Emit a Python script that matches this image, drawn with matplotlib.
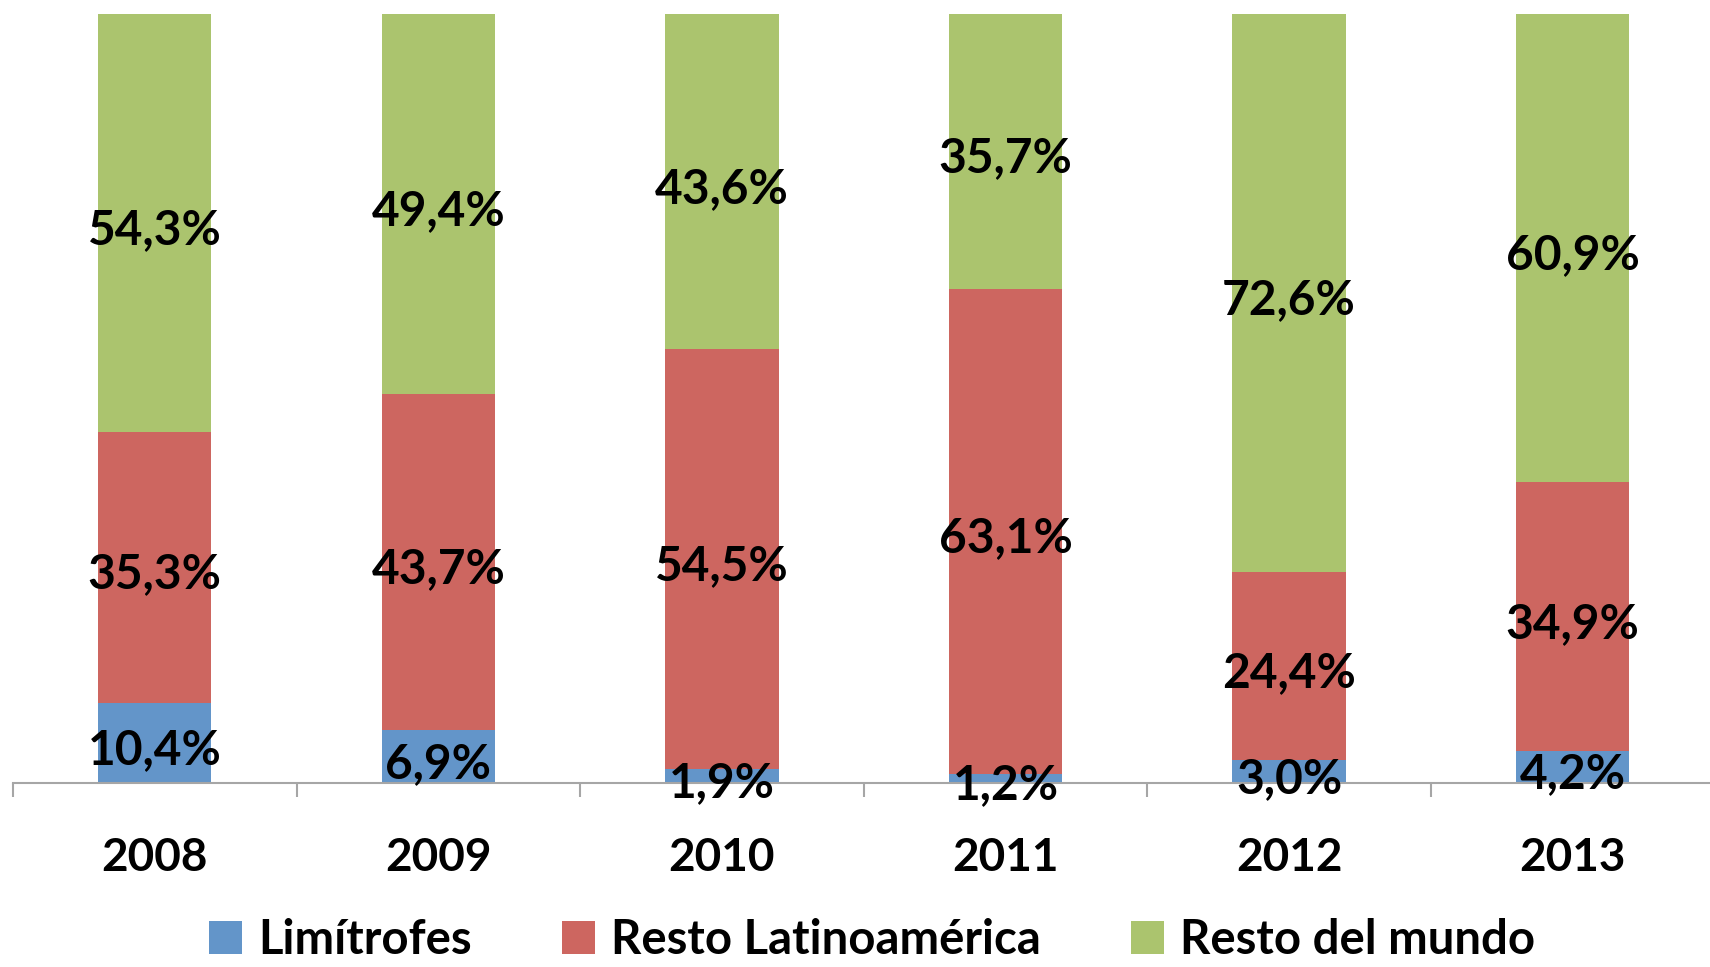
import matplotlib.pyplot as plt
from matplotlib.patches import Patch
import numpy as np

years = ['2008', '2009', '2010', '2011', '2012', '2013']
limitrofes = [10.4, 6.9, 1.9, 1.2, 3.0, 4.2]
resto_latam = [35.3, 43.7, 54.5, 63.1, 24.4, 34.9]
resto_mundo = [54.3, 49.4, 43.6, 35.7, 72.6, 60.9]

series_names = ['Limítrofes', 'Resto Latinoamérica', 'Resto del mundo']
colors = ['#6395C9', '#CD6660', '#ABC46E']


def pct(v):
    return f'{v:.1f}%'.replace('.', ',')


plt.rcParams['font.family'] = ['Lato', 'DejaVu Sans']
plt.rcParams['font.weight'] = 'bold'

fig = plt.figure(figsize=(17.1, 9.67), dpi=100)
ax = fig.add_axes([0.0076, 0.19, 0.995, 0.7955])

x = np.arange(len(years))
bottom = np.zeros(len(years))
for vals, col in zip([limitrofes, resto_latam, resto_mundo], colors):
    vals = np.array(vals)
    ax.bar(x, vals, width=0.4, bottom=bottom, color=col, zorder=2)
    for xi, b, v in zip(x, bottom, vals):
        ax.annotate(pct(v), (xi, b + v / 2), xytext=(0, -5),
                    textcoords='offset points', ha='center', va='center',
                    fontsize=34.5, fontweight='bold', color='black', zorder=3)
    bottom += vals

ax.set_xlim(-0.5, len(years) - 0.5)
ax.set_ylim(0, 100)
ax.set_yticks([])
for s in ['top', 'right', 'left']:
    ax.spines[s].set_visible(False)
ax.spines['bottom'].set_color('#A6A6A6')
ax.spines['bottom'].set_linewidth(1.5)

ax.set_xticks(x)
ax.set_xticklabels(years, fontsize=33, fontweight='bold')
ax.tick_params(axis='x', which='major', length=0, pad=39)
ax.set_xticks(np.arange(-0.5, len(years)), minor=True)
ax.tick_params(axis='x', which='minor', length=10, width=1.5, color='#A6A6A6')

handles = [Patch(facecolor=c, edgecolor='none') for c in colors]
fig.legend(handles, series_names, loc='center', bbox_to_anchor=(0.51, 0.028),
           ncol=3, frameon=False, prop={'size': 34, 'weight': 'bold'},
           handlelength=0.7, handleheight=0.7, handletextpad=0.35,
           columnspacing=1.9)

fig.savefig('out.png', dpi=100)
